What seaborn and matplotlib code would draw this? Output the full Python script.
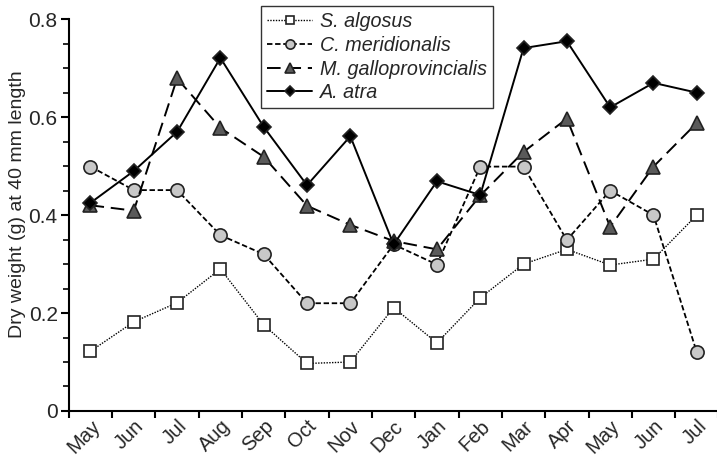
import matplotlib
matplotlib.use("Agg")
import matplotlib.pyplot as plt
import matplotlib.transforms as mtransforms
import seaborn as sns
import pandas as pd
import numpy as np

months = ["May", "Jun", "Jul", "Aug", "Sep", "Oct", "Nov", "Dec", "Jan", "Feb",
          "Mar", "Apr", "May", "Jun", "Jul"]
s_algosus = [0.122, 0.182, 0.221, 0.29, 0.176, 0.097, 0.10, 0.211, 0.139, 0.231,
             0.30, 0.33, 0.298, 0.31, 0.40]
c_meridionalis = [0.499, 0.451, 0.451, 0.359, 0.32, 0.22, 0.22, 0.34, 0.299, 0.499,
                  0.499, 0.349, 0.45, 0.40, 0.12]
m_gallo = [0.42, 0.409, 0.679, 0.578, 0.519, 0.419, 0.38, 0.347, 0.33, 0.44,
           0.529, 0.597, 0.376, 0.499, 0.588]
a_atra = [0.425, 0.49, 0.57, 0.721, 0.58, 0.461, 0.561, 0.34, 0.469, 0.441,
          0.741, 0.755, 0.62, 0.67, 0.65]

series_names = ["S. algosus", "C. meridionalis", "M. galloprovincialis", "A. atra"]
series_vals = [s_algosus, c_meridionalis, m_gallo, a_atra]

sns.set_theme(style="ticks")
plt.rcParams["font.family"] = ["Liberation Sans", "DejaVu Sans"]

fig = plt.figure(figsize=(7.17, 4.57), dpi=100)
ax = fig.add_axes([0.096, 0.1007, 0.906, 0.8573])

styles = {
    "S. algosus": dict(ls=(0, (1, 1)), marker="s", mfc="white", ms=9, lw=1.0),
    "C. meridionalis": dict(ls=(0, (3, 1.5)), marker="o", mfc="#c8c8c8", ms=9.5, lw=1.3),
    "M. galloprovincialis": dict(ls=(0, (7, 3.5)), marker="^", mfc="#5a5a5a", ms=9.5, lw=1.4),
    "A. atra": dict(ls="-", marker="D", mfc="black", ms=7.5, lw=1.4),
}

x = np.arange(len(months))
for name, vals in zip(series_names, series_vals):
    st = styles[name]
    df = pd.DataFrame({"x": x, "y": vals})
    sns.lineplot(data=df, x="x", y="y", ax=ax, color="black", linestyle=st["ls"],
                 linewidth=st["lw"], marker=st["marker"], markerfacecolor=st["mfc"],
                 markeredgecolor="#222222", markeredgewidth=1.2, markersize=st["ms"],
                 label=name)

ax.set_xlim(-0.5, len(months) - 0.5)
ax.set_ylim(0, 0.8)
ax.set_xticks(x)
ax.set_xticklabels(months, rotation=45, ha="right", rotation_mode="anchor", fontsize=14.5)
offset = mtransforms.ScaledTranslation(10 / 100, 4 / 100, fig.dpi_scale_trans)
for lbl in ax.get_xticklabels():
    lbl.set_transform(lbl.get_transform() + offset)
ax.set_xticks(np.arange(-0.5, len(months), 1.0), minor=True)
ax.tick_params(axis="x", which="major", length=0, pad=4)
ax.tick_params(axis="x", which="minor", length=5, width=1.5, color="black")
ax.set_yticks([0, 0.2, 0.4, 0.6, 0.8])
ax.set_yticklabels(["0", "0.2", "0.4", "0.6", "0.8"], fontsize=15)
ax.set_yticks(np.arange(0, 0.81, 0.05), minor=True)
ax.tick_params(axis="y", which="major", length=6, width=1.5, color="black", pad=2)
ax.tick_params(axis="y", which="minor", length=4, width=1.2, color="black")
ax.set_xlabel("")
ax.set_ylabel("Dry weight (g) at 40 mm length", fontsize=14)
ax.yaxis.set_label_coords(-0.066, 0.527)
for s in ["top", "right"]:
    ax.spines[s].set_visible(False)
for s in ["left", "bottom"]:
    ax.spines[s].set_linewidth(1.5)
    ax.spines[s].set_color("black")

leg = ax.legend(loc="upper left", bbox_to_anchor=(0.296, 1.033), frameon=True,
                fancybox=False, edgecolor="black", prop={"style": "italic", "size": 14.2},
                handlelength=2.3, handletextpad=0.4, borderpad=0.3, labelspacing=0.24,
                borderaxespad=0, markerscale=0.7)
leg.get_frame().set_linewidth(1.0)

fig.savefig("out.png", dpi=100)
